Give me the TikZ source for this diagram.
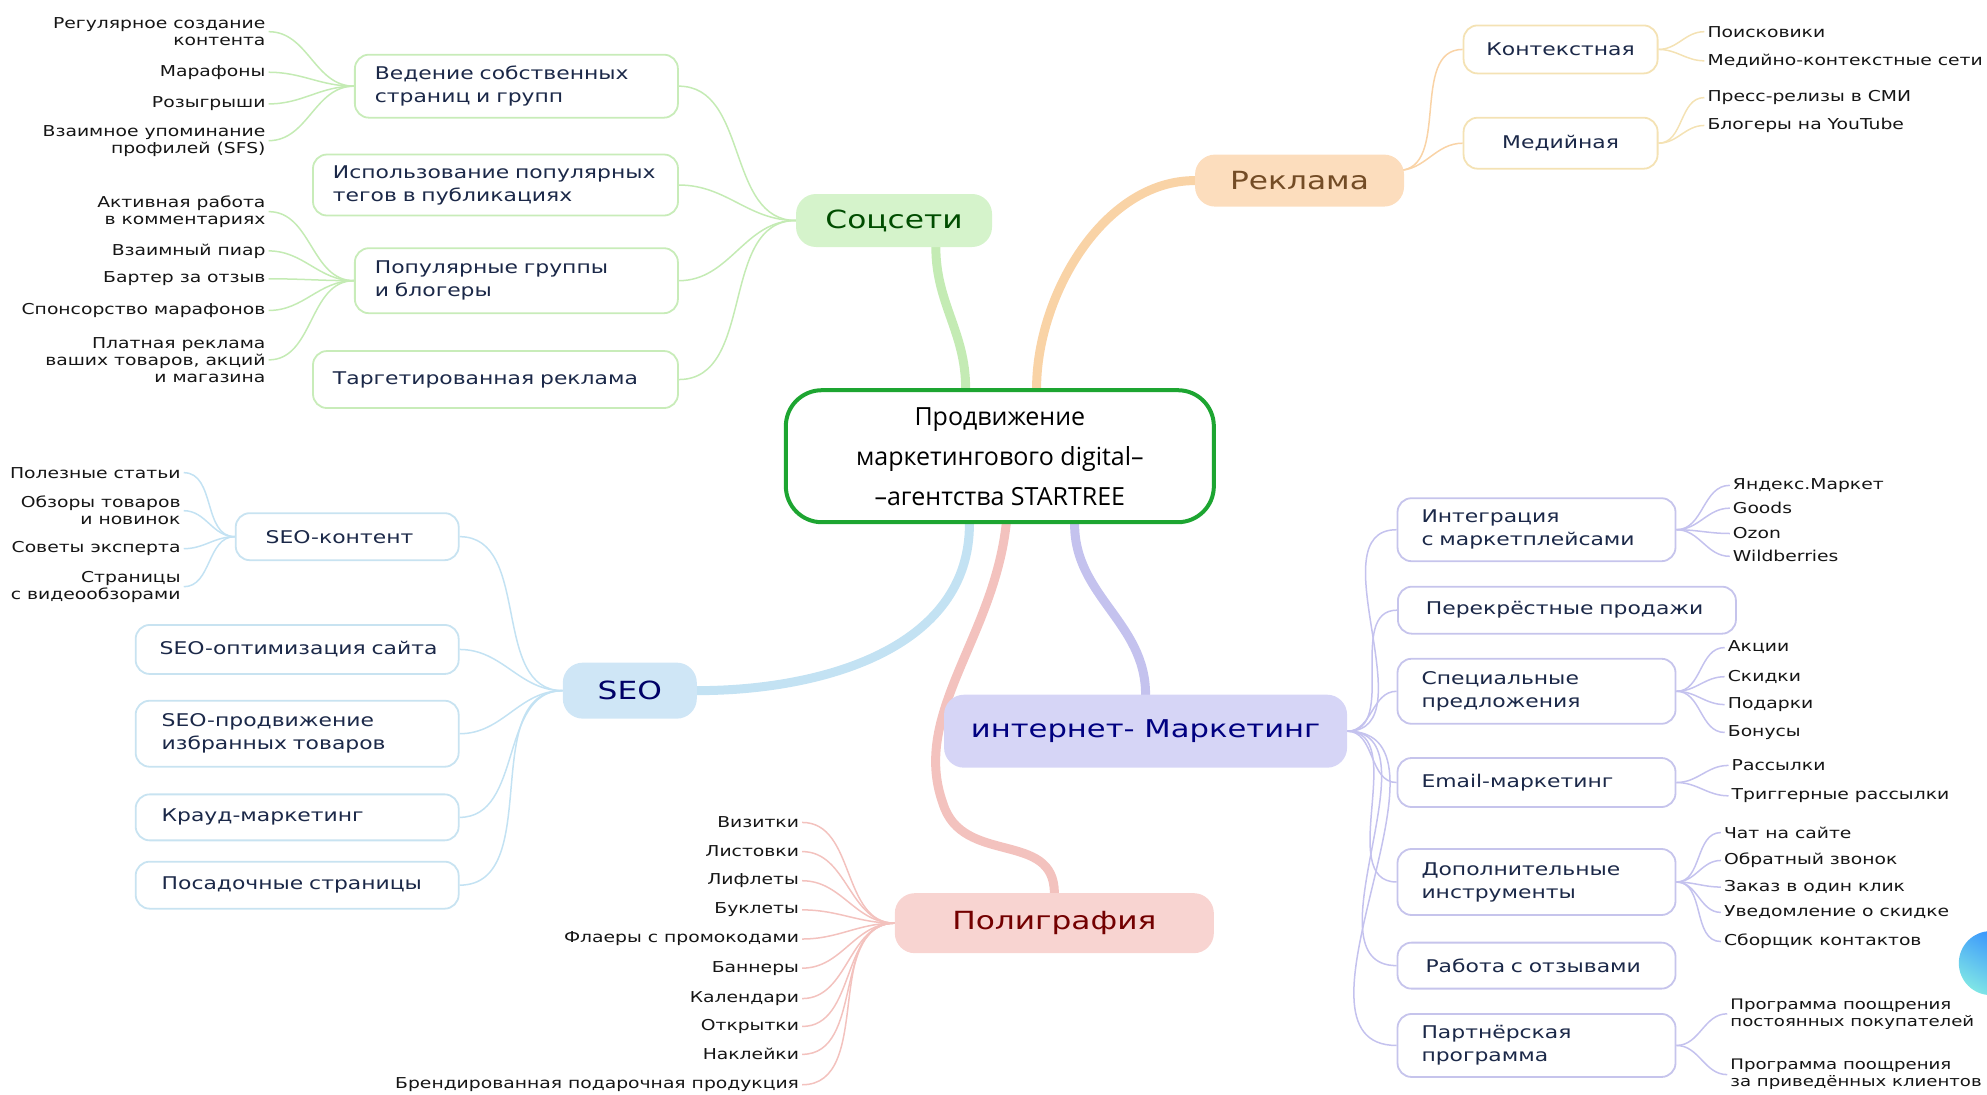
\documentclass[tikz,border=0pt]{standalone}
\usepackage{fontspec}
\setmainfont{DejaVu Sans}[FakeStretch=1.25]
\newfontfamily\ctrfont{Open Sans}
\usetikzlibrary{calc,backgrounds}
\newcommand{\oneline}[1]{\mbox{#1}}
\definecolor{gfill}{HTML}{D5F3CB}
\definecolor{gline}{HTML}{C4EBB4}
\definecolor{gedge}{HTML}{C8ECB9}
\definecolor{ofill}{HTML}{FCDDBD}
\definecolor{oline}{HTML}{F9D3A6}
\definecolor{oedge}{HTML}{F4E2B4}
\definecolor{bfill}{HTML}{CFE6F6}
\definecolor{bline}{HTML}{C3E2F3}
\definecolor{bedge}{HTML}{C8E3F1}
\definecolor{vfill}{HTML}{D6D5F6}
\definecolor{vline}{HTML}{C4C2EE}
\definecolor{vedge}{HTML}{C6C4EC}
\definecolor{pfill}{HTML}{F8D4D1}
\definecolor{pline}{HTML}{F3C2BE}
\definecolor{ctrgreen}{HTML}{1DA531}
\definecolor{boxtext}{HTML}{1B2848}
\definecolor{leaftext}{HTML}{151515}
\begin{document}
\begin{tikzpicture}[x=1.2672pt,y=-1.2672pt,
  leaf/.style={font=\fontsize{15}{17}\selectfont, inner sep=3pt, text=leaftext},
  lleaf/.style={leaf, anchor=east, align=right},
  rleaf/.style={leaf, anchor=west, align=left},
  cb/.style={draw=#1, line width=1.8pt, fill=white, rounded corners=14pt,
    inner xsep=20pt, inner ysep=0pt, align=left,
    font=\fontsize{17.5}{23}\selectfont, text=boxtext},
  br/.style={fill=#1, rounded corners=20pt, inner sep=0pt,
    font=\fontsize{25}{28}\selectfont},
  trunk/.style={line width=9pt, draw=#1, line cap=round},
  twig/.style={line width=1.5pt, draw=#1}
]
\useasboundingbox (0,0) rectangle (1568,864);

% central
\node[draw=ctrgreen, line width=4pt, fill=white, rounded corners=36pt,
  minimum width=428pt, minimum height=132pt, align=center,
  font=\ctrfont\fontsize{25}{40}\selectfont] (ctr) at (789,360)
  {Продвижение\\маркетингового digital–\\–агентства STARTREE};

% branches
\node[br=gfill, minimum width=196pt, minimum height=53pt, text=green!30!black] (soc) at (705.5,174) {Соцсети};
\node[br=ofill, minimum width=209pt, minimum height=52pt, text=brown!60!black] (rek) at (1025.5,142.5) {Реклама};
\node[br=bfill, minimum width=134pt, minimum height=56pt, text=blue!40!black] (seo) at (497,545) {SEO};
\node[br=vfill, minimum width=403pt, minimum height=73pt, text=blue!50!black, font=\fontsize{24.5}{30}\selectfont] (inm) at (904,577) {интернет- Маркетинг};
\node[br=pfill, minimum width=319pt, minimum height=60pt, text=red!45!black] (pol) at (832,728.5) {Полиграфия};

% Соцсети children
\node[cb=gedge, text width=283pt, minimum height=63pt] (sa) at (407.5,68) {\oneline{Ведение собственных}\\\oneline{страниц и групп}};
\node[cb=gedge, text width=325pt, minimum height=61pt] (sb) at (391,146) {\oneline{Использование популярных}\\\oneline{тегов в публикациях}};
\node[cb=gedge, text width=283pt, minimum height=65pt] (sc) at (407.5,221.5) {\oneline{Популярные группы}\\\oneline{и блогеры}};
\node[cb=gedge, text width=325pt, minimum height=57pt] (sd) at (391,299.5) {\oneline{Таргетированная реклама}};

\node[lleaf] (s1) at (212,25) {Регулярное создание\\контента};
\node[lleaf] (s2) at (212,57) {Марафоны};
\node[lleaf] (s3) at (212,82) {Розыгрыши};
\node[lleaf] (s4) at (212,111) {Взаимное упоминание\\профилей (SFS)};
\node[lleaf] (s5) at (212,167) {Активная работа\\в комментариях};
\node[lleaf] (s6) at (212,198) {Взаимный пиар};
\node[lleaf] (s7) at (212,220) {Бартер за отзыв};
\node[lleaf] (s8) at (212,245) {Спонсорство марафонов};
\node[lleaf] (s9) at (212,284) {Платная реклама\\ваших товаров, акций\\и магазина};

% Реклама children
\node[cb=oedge, text width=154pt, minimum height=48pt, align=center] (ra) at (1231.5,39) {Контекстная};
\node[cb=oedge, text width=154pt, minimum height=51pt, align=center] (rb) at (1231.5,113) {Медийная};
\node[rleaf] (r1) at (1345,25) {Поисковики};
\node[rleaf] (r2) at (1345,48) {Медийно-контекстные сети};
\node[rleaf] (r3) at (1345,77) {Пресс-релизы в СМИ};
\node[rleaf] (r4) at (1345,99) {Блогеры на YouTube};

% SEO children
\node[cb=bedge, inner xsep=30pt, text width=163pt, minimum height=47pt] (qa) at (274,423.5) {\oneline{SEO-контент}};
\node[cb=bedge, inner xsep=24pt, text width=275pt, minimum height=49pt] (qb) at (234.5,512.5) {\oneline{SEO-оптимизация сайта}};
\node[cb=bedge, inner xsep=26pt, text width=271pt, minimum height=66pt] (qc) at (234.5,579) {\oneline{SEO-продвижение}\\\oneline{избранных товаров}};
\node[cb=bedge, inner xsep=26pt, text width=271pt, minimum height=46pt] (qd) at (234.5,645) {\oneline{Крауд-маркетинг}};
\node[cb=bedge, inner xsep=26pt, text width=271pt, minimum height=47pt] (qe) at (234.5,698.5) {\oneline{Посадочные страницы}};
\node[lleaf] (q1) at (145,373) {Полезные статьи};
\node[lleaf] (q2) at (145,403) {Обзоры товаров\\и новинок};
\node[lleaf] (q3) at (145,433) {Советы эксперта};
\node[lleaf] (q4) at (145,463) {Страницы\\с видеообзорами};

% Полиграфия leaves
\node[lleaf] (p1) at (633,649) {Визитки};
\node[lleaf] (p2) at (633,672) {Листовки};
\node[lleaf] (p3) at (633,695) {Лифлеты};
\node[lleaf] (p4) at (633,718) {Буклеты};
\node[lleaf] (p5) at (633,741) {Флаеры с промокодами};
\node[lleaf] (p6) at (633,764) {Баннеры};
\node[lleaf] (p7) at (633,788) {Календари};
\node[lleaf] (p8) at (633,810) {Открытки};
\node[lleaf] (p9) at (633,832) {Наклейки};
\node[lleaf] (p10) at (633,856) {Брендированная подарочная продукция};

% интернет-маркетинг children
\node[cb=vedge, inner xsep=24pt, text width=230pt, minimum height=63pt] (ia) at (1212.5,418) {\oneline{Интеграция}\\\oneline{с маркетплейсами}};
\node[cb=vedge, inner xsep=28pt, text width=282pt, minimum height=47pt] (ib) at (1236.5,481.5) {\oneline{Перекрёстные продажи}};
\node[cb=vedge, inner xsep=24pt, text width=230pt, minimum height=65pt] (ic) at (1212.5,545.5) {\oneline{Специальные}\\\oneline{предложения}};
\node[cb=vedge, inner xsep=24pt, text width=230pt, minimum height=49pt] (id) at (1212.5,617.5) {\oneline{Email-маркетинг}};
\node[cb=vedge, inner xsep=24pt, text width=230pt, minimum height=66pt] (ie) at (1212.5,696) {\oneline{Дополнительные}\\\oneline{инструменты}};
\node[cb=vedge, inner xsep=28pt, text width=222pt, minimum height=46pt] (if) at (1212.5,762) {\oneline{Работа с отзывами}};
\node[cb=vedge, inner xsep=24pt, text width=230pt, minimum height=63pt] (ig) at (1212.5,825) {\oneline{Партнёрская}\\\oneline{программа}};

\node[rleaf] (i1) at (1365,383) {Яндекс.Маркет};
\node[rleaf] (i2) at (1365,401) {Goods};
\node[rleaf] (i3) at (1365,421) {Ozon};
\node[rleaf] (i4) at (1365,439) {Wildberries};
\node[rleaf] (j1) at (1361,511) {Акции};
\node[rleaf] (j2) at (1361,534) {Скидки};
\node[rleaf] (j3) at (1361,556) {Подарки};
\node[rleaf] (j4) at (1361,578) {Бонусы};
\node[rleaf] (k1) at (1364,604) {Рассылки};
\node[rleaf] (k2) at (1364,628) {Триггерные рассылки};
\node[rleaf] (l1) at (1358,657) {Чат на сайте};
\node[rleaf] (l2) at (1358,679) {Обратный звонок};
\node[rleaf] (l3) at (1358,700) {Заказ в один клик};
\node[rleaf] (l4) at (1358,720) {Уведомление о скидке};
\node[rleaf] (l5) at (1358,743) {Сборщик контактов};
\node[rleaf, font=\fontsize{14.5}{17}\selectfont] (m1) at (1363,800) {Программа поощрения\\постоянных покупателей};
\node[rleaf, font=\fontsize{14.5}{17}\selectfont] (m2) at (1363,848) {Программа поощрения\\за приведённых клиентов};

% decoration circle at right edge
\shade[top color=blue!55!cyan!80!white, bottom color=cyan!60!teal!50!white, shading angle=-30] (1571,760) circle[radius=32pt];

\begin{pgfonlayer}{background}
% trunk connectors
\draw[trunk=gline] ($(ctr.north)+(-27,0)$) to[out=90,in=270] ($(soc.south)+(33,0)$);
\draw[trunk=oline] ($(ctr.north)+(29,0)$) to[out=90,in=180,looseness=0.9] (rek.west);
\draw[trunk=bline] ($(ctr.south)+(-24,0)$) to[out=270,in=0,looseness=1] (seo.east);
\draw[trunk=vline] ($(ctr.south)+(59,0)$) to[out=270,in=90] (inm.north);
\draw[trunk=pline] ($(ctr.south)+(5,0)$) .. controls ($(ctr.south)+(-5,90)$) and ($(ctr.south)+(-70,150)$) .. ($(ctr.south)+(-45,220)$) .. controls ($(ctr.south)+(-30,270)$) and ($(pol.north)+(0,-50)$) .. (pol.north);

% Соцсети fan
\foreach \c in {sa,sb,sc,sd}
  \draw[twig=gline] (soc.west) to[out=180,in=0] (\c.east);
\foreach \c in {s1,s2,s3,s4}
  \draw[twig=gline] (sa.west) to[out=180,in=0] (\c.east);
\foreach \c in {s5,s6,s7,s8,s9}
  \draw[twig=gline] (sc.west) to[out=180,in=0] (\c.east);

% Реклама fan
\foreach \c in {ra,rb}
  \draw[twig=oline] ($(rek.east)+(-5,-8)$) to[out=0,in=180] (\c.west);
\foreach \c in {r1,r2}
  \draw[twig=oedge] (ra.east) to[out=0,in=180] (\c.west);
\foreach \c in {r3,r4}
  \draw[twig=oedge] (rb.east) to[out=0,in=180] (\c.west);

% SEO fan
\foreach \c in {qa,qb,qc,qd,qe}
  \draw[twig=bline] (seo.west) to[out=180,in=0] (\c.east);
\foreach \c in {q1,q2,q3,q4}
  \draw[twig=bline] (qa.west) to[out=180,in=0] (\c.east);

% Полиграфия fan
\foreach \c in {p1,p2,p3,p4,p5,p6,p7,p8,p9,p10}
  \draw[twig=pline] (pol.west) to[out=180,in=0] (\c.east);

% интернет fan
\foreach \c in {ia,ib,ic,id,ie,if,ig}
  \draw[twig=vline] (inm.east) to[out=0,in=180] (\c.west);
\foreach \c in {i1,i2,i3,i4}
  \draw[twig=vline] (ia.east) to[out=0,in=180] (\c.west);
\foreach \c in {j1,j2,j3,j4}
  \draw[twig=vline] (ic.east) to[out=0,in=180] (\c.west);
\foreach \c in {k1,k2}
  \draw[twig=vline] (id.east) to[out=0,in=180] (\c.west);
\foreach \c in {l1,l2,l3,l4,l5}
  \draw[twig=vline] (ie.east) to[out=0,in=180] (\c.west);
\foreach \c in {m1,m2}
  \draw[twig=vline] (ig.east) to[out=0,in=180] (\c.west);
\end{pgfonlayer}
\end{tikzpicture}
\end{document}
